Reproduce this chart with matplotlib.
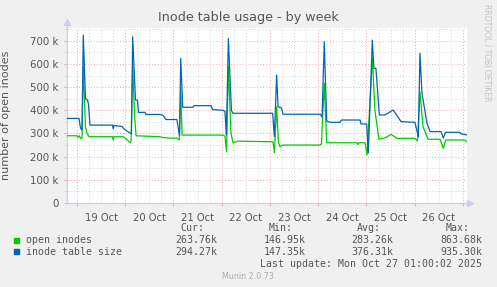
import matplotlib
matplotlib.use("Agg")
import matplotlib.pyplot as plt
from matplotlib.ticker import FixedLocator, FuncFormatter

# hours since 19 Oct 00:00, values in thousands
open_t = [-5.1, 0, 0.5, 1.2, 1.7, 2.5, 3.1, 4.2, 5.0, 6.0, 17.7, 18.0, 18.4, 22.9, 23.9, 24.9,
          26.4, 26.9, 27.7, 28.6, 29.4, 41.3, 42.8, 46.3, 49.7, 50.9, 51.6, 52.3, 72.6, 73.6,
          74.4, 75.3, 76.6, 77.6, 80.1, 97.5, 98.2, 99.3, 100.2, 101.0, 102.5, 120.9, 121.6,
          123.0, 124.2, 139.3, 139.8, 140.3, 143.3, 144.3, 146.9, 148.2, 150.2, 153.7, 156.2,
          159.2, 168.1, 169.4, 170.6, 172.1, 174.6, 180.6, 182.2, 183.5, 192.9, 194.0]
open_v = [290, 290, 283, 290, 279, 280, 590, 330, 300, 286, 286, 272, 286, 286, 280, 272,
          260, 268, 600, 380, 290, 286, 282, 280, 280, 272, 487, 293, 293, 288,
          221, 590, 300, 260, 267, 264, 217, 415, 260, 243, 250, 250, 255,
          517, 260, 260, 252, 260, 260, 207, 625, 400, 275, 283, 296,
          279, 279, 268, 480, 330, 275, 275, 236, 272, 272, 264]

size_t = [-5.1, 1.0, 1.74, 2.49, 3.13, 4.23, 5.22, 5.72, 6.47, 17.66, 18.0, 18.4, 22.4, 23.6,
          24.9, 26.4, 27.1, 27.7, 29.1, 30.1, 30.6, 33.8, 34.3, 41.3, 42.8, 44.3, 49.7, 51.0,
          51.6, 52.6, 57.7, 58.2, 66.7, 67.4, 72.6, 73.6, 74.3, 75.3, 76.8, 77.6, 97.3, 98.2,
          99.3, 100.0, 101.7, 102.5, 121.1, 121.9, 123.0, 124.2, 125.8, 130.8, 131.6, 140.8,
          141.3, 144.1, 144.9, 146.9, 147.7, 148.7, 150.4, 153.2, 156.5, 157.3, 161.2, 168.1,
          169.8, 170.6, 171.6, 174.1, 175.6, 181.1, 182.2, 183.3, 190.5, 191.0, 194.0]
size_v = [365, 365, 323, 315, 724, 450, 445, 425, 336, 336, 320, 334, 330, 318,
          310, 302, 300, 717, 444, 444, 391, 391, 382, 382, 378, 360, 360, 290,
          624, 413, 413, 420, 420, 403, 400, 395, 293, 710, 400, 387, 387, 286,
          552, 415, 410, 383, 383, 370, 696, 354, 348, 348, 358, 358,
          341, 341, 216, 703, 581, 581, 380, 380, 397, 401, 351, 348,
          286, 646, 473, 344, 308, 308, 280, 305, 305, 298, 294]

day_labels = ["19 Oct", "20 Oct", "21 Oct", "22 Oct", "23 Oct", "24 Oct", "25 Oct", "26 Oct"]
legend_names = ["open inodes", "inode table size"]
legend_cur = ["263.76k", "294.27k"]
legend_min = ["146.95k", "147.35k"]
legend_avg = ["283.26k", "376.31k"]
legend_max = ["863.68k", "935.30k"]
colors = ["#00cc00", "#0066b3"]

W, H = 497, 287
fig = plt.figure(figsize=(W / 100, H / 100), dpi=100, facecolor="#f0f0f0")
ax = fig.add_axes([66.7 / W, (H - 203) / H, (467 - 66.7) / W, (203 - 28) / H])
ax.set_facecolor("white")

ax.plot(open_t, open_v, color=colors[0], lw=0.9, zorder=3)
ax.plot(size_t, size_v, color=colors[1], lw=0.9, zorder=4)

ax.set_xlim(-5.12, 194.0)
ax.set_ylim(0, 755)

# grid: red at midnight / 100k, grey at 6h / 50k
midnights = [24 * i for i in range(9)]
sixes = [24 * i + h for i in range(-1, 9) for h in (6, 12, 18)]
ax.xaxis.set_major_locator(FixedLocator(midnights))
ax.xaxis.set_minor_locator(FixedLocator(sixes))
ax.xaxis.set_major_formatter(FuncFormatter(lambda v, p: ""))
def noon_fmt(v, p):
    d = int(round((v - 12) / 24))
    if abs(v - (24 * d + 12)) < 0.01 and 0 <= d < len(day_labels):
        return day_labels[d]
    return ""
ax.xaxis.set_minor_formatter(FuncFormatter(noon_fmt))

ax.yaxis.set_major_locator(FixedLocator(range(0, 800, 100)))
ax.yaxis.set_minor_locator(FixedLocator(range(50, 800, 100)))
ax.yaxis.set_major_formatter(FuncFormatter(lambda v, p: "0" if v == 0 else "%d k" % v))

ax.grid(which="major", color="#eeaaaa", linestyle=(0, (1, 2)), lw=0.7)
ax.grid(which="minor", color="#d4d4d4", linestyle=(0, (1, 2)), lw=0.7)
ax.tick_params(axis="x", which="major", length=2.5, color="#eeaaaa", pad=5)
ax.tick_params(axis="x", which="minor", length=0, pad=7.0, labelsize=7.2, labelcolor="#555555")
ax.tick_params(axis="y", which="major", length=2, color="#eeaaaa", pad=4,
               labelsize=7.4, labelcolor="#555555")
ax.tick_params(axis="y", which="minor", length=2, color="#d4d4d4")

for s in ["top", "right"]:
    ax.spines[s].set_visible(False)
for s in ["left", "bottom"]:
    ax.spines[s].set_color("#c8cff0")
    ax.spines[s].set_linewidth(0.9)
ax.plot([0], [1.035], marker="^", color="#c8cff0", ms=4, transform=ax.transAxes, clip_on=False)
ax.plot([1.008], [0], marker=">", color="#c8cff0", ms=4, transform=ax.transAxes, clip_on=False)
ax.spines["bottom"].set_bounds(-5.12, 195.5)
ax.spines["left"].set_bounds(0, 775)

ax.set_ylabel("number of open inodes", fontsize=8, color="#555555")
ax.yaxis.set_label_coords(-(66.7 - 11) / (467 - 66.7), 0.5)
fig.text(248 / W, 1 - 18 / H, "Inode table usage - by week", ha="center", va="center",
         fontsize=9.2, color="#555555")
fig.text(487 / W, 1 - 53 / H, "RRDTOOL / TOBI OETIKER", ha="center", va="center",
         rotation=270, fontsize=5.5, color="#c4c4c4")

mono = dict(family="DejaVu Sans Mono", fontsize=7.1, color="#555555", va="center")
hy = 1 - 228.3 / H
for x, t in [(204, "Cur:"), (293, "Min:"), (381, "Avg:"), (470, "Max:")]:
    fig.text(x / W, hy, t, ha="right", **mono)
for i, name in enumerate(legend_names):
    y = 1 - (240 + 11.7 * i) / H
    fig.patches.append(plt.Rectangle((14 / W, y - 2.5 / H), 5 / W, 5 / H,
                                     transform=fig.transFigure, color=colors[i]))
    fig.text(26 / W, y, name, ha="left", **mono)
    for x, v in [(217, legend_cur[i]), (306, legend_min[i]), (393, legend_avg[i]), (482, legend_max[i])]:
        fig.text(x / W, y, v, ha="right", **mono)
fig.text(482 / W, 1 - 264 / H, "Last update: Mon Oct 27 01:00:02 2025", ha="right", **mono)
fig.text(248 / W, 1 - 276.3 / H, "Munin 2.0.73", ha="center", va="center",
         fontsize=5.8, color="#aaaaaa")

fig.savefig("out.png", dpi=100, facecolor=fig.get_facecolor())
